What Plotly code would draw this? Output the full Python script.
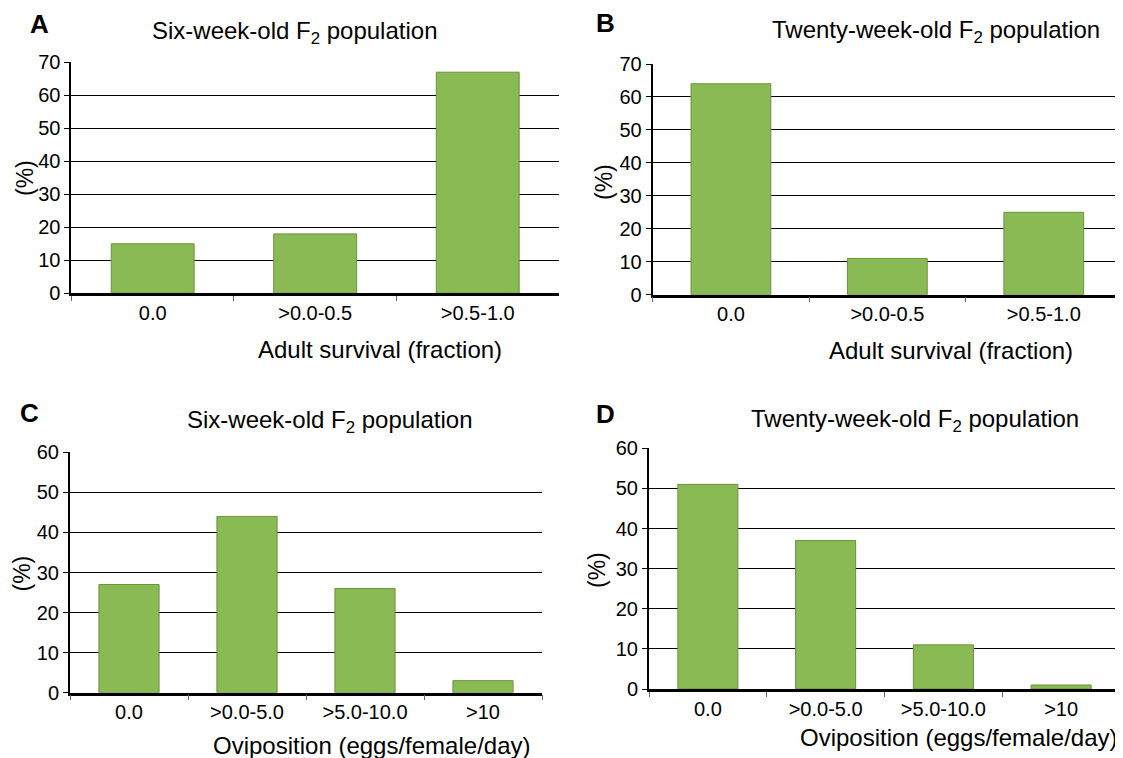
import plotly.graph_objects as go

W, H = 1123, 758
# the page body adds an 8px margin; positions below are reference-pixel based
OFF = 8

survival_cats = ["0.0", ">0.0-0.5", ">0.5-1.0"]
survival_six = [15, 18, 67]
survival_twenty = [64, 11, 25]

ovi_cats = ["0.0", ">0.0-5.0", ">5.0-10.0", ">10"]
ovi_six = [27, 44, 26, 3]
ovi_twenty = [51, 37, 11, 1]

title_six = "Six-week-old F<sub>2</sub> population"
title_twenty = "Twenty-week-old F<sub>2</sub> population"
xtitle_surv = "Adult survival (fraction)"
xtitle_ovi = "Oviposition (eggs/female/day)"
ytitle = "(%)"

FONT = "Liberation Sans, Arial, sans-serif"
BAR = "#8aba54"
BAR_LINE = "#6b923d"


def px(x):
    return (x - OFF) / W


def py(y):
    return 1 - (y - OFF) / H


fig = go.Figure()

panels = [
    (survival_cats, survival_six, "x", "y"),
    (survival_cats, survival_twenty, "x2", "y2"),
    (ovi_cats, ovi_six, "x3", "y3"),
    (ovi_cats, ovi_twenty, "x4", "y4"),
]
for cats, vals, xa, ya in panels:
    fig.add_trace(go.Bar(
        x=cats, y=vals, xaxis=xa, yaxis=ya,
        marker=dict(color=BAR, line=dict(color=BAR_LINE, width=1)),
        showlegend=False, hoverinfo="x+y",
    ))

domains = {
    "1": ([71.4, 559], [293.3, 62.3], 70),
    "2": ([652.7, 1122], [294.7, 64], 70),
    "3": ([70, 542], [692.7, 452.3], 60),
    "4": ([649, 1120], [689, 448.3], 60),
}

layout = dict(
    width=W, height=H,
    margin=dict(l=0, r=0, t=0, b=0, pad=0, autoexpand=False),
    plot_bgcolor="white", paper_bgcolor="white",
    bargap=0.49,
    font=dict(family=FONT, color="black", size=20),
)
for k, (xd, yd, ymax) in domains.items():
    sfx = "" if k == "1" else k
    layout["xaxis" + sfx] = dict(
        domain=[px(xd[0]), min(px(xd[1]), 1.0)],
        anchor="y" + sfx,
        type="category", automargin=False,
        showline=True, linecolor="black", linewidth=2.5,
        ticks="outside", tickson="boundaries", ticklen=5, tickcolor="#666666", tickwidth=1,
        tickfont=dict(size=20, family=FONT, color="black"),
        showgrid=False, zeroline=False,
    )
    layout["yaxis" + sfx] = dict(
        domain=[py(yd[0]), py(yd[1])],
        anchor="x" + sfx, automargin=False,
        range=[0, ymax], dtick=10, tick0=0,
        showline=True, linecolor="black", linewidth=2,
        ticks="outside", ticklen=5, tickcolor="black", tickwidth=1,
        tickfont=dict(size=20, family=FONT, color="black"),
        showgrid=True, gridcolor="black", gridwidth=1,
        zeroline=False,
    )
fig.update_layout(**layout)

ann = []


def add_text(text, x, y, size, bold=False, angle=0):
    ann.append(dict(
        text=("<b>%s</b>" % text) if bold else text,
        x=px(x), y=py(y), xref="paper", yref="paper",
        xanchor="center", yanchor="middle", showarrow=False,
        textangle=angle,
        font=dict(size=size, family=FONT, color="black"),
    ))


add_text("A", 39, 24, 26, bold=True)
add_text("B", 605, 23, 26, bold=True)
add_text("C", 29, 413, 26, bold=True)
add_text("D", 605, 414, 26, bold=True)

add_text(title_six, 294.5, 33, 24)
add_text(title_twenty, 936, 31, 24)
add_text(title_six, 330, 421, 24)
add_text(title_twenty, 915, 420, 24)

add_text(xtitle_surv, 380, 349, 24)
add_text(xtitle_surv, 951, 350, 24)
add_text(xtitle_ovi, 371, 745, 24)
add_text(xtitle_ovi, 958, 737, 24)

add_text(ytitle, 25, 178, 23, angle=-90)
add_text(ytitle, 604, 182, 23, angle=-90)
add_text(ytitle, 21.5, 574, 23, angle=-90)
add_text(ytitle, 597, 570, 23, angle=-90)

fig.update_layout(annotations=ann)

fig.write_html("out.html")
